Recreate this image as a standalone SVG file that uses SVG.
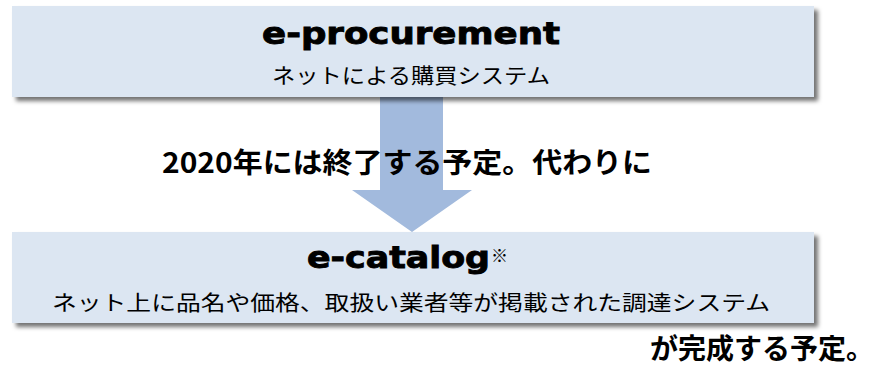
<svg xmlns="http://www.w3.org/2000/svg" width="881" height="368" viewBox="0 0 881 368">
<defs>
<filter id="sh" x="-5%" y="-20%" width="115%" height="150%">
<feDropShadow dx="4" dy="4" stdDeviation="2" flood-color="#000" flood-opacity="0.55"/>
</filter>
</defs>
<style>
.box{fill:#dce6f2;filter:url(#sh)}
.title{font-family:"DejaVu Sans","Liberation Sans",sans-serif;font-weight:bold;fill:#000;stroke:#000;stroke-width:0.9px}
.sub{font-family:"Noto Sans CJK JP",sans-serif;font-size:21px;fill:#000}
.big{font-family:"Noto Sans CJK JP",sans-serif;font-weight:bold;font-size:28px;fill:#000}
.arrow{fill:#a2badd}
</style>
<rect width="881" height="368" fill="#fff"/>
<g id="connectors">
<polygon class="arrow" points="380,97 443,97 443,190 472,190 412,232 352,190 380,190"/>
</g>
<g id="node-eprocurement">
<rect class="box" x="12" y="6" width="802" height="91"/>
<text class="title" x="262" y="44" font-size="31" textLength="298" lengthAdjust="spacingAndGlyphs">e-procurement</text>
<text class="sub" x="272" y="83" textLength="278" lengthAdjust="spacingAndGlyphs">ネットによる購買システム</text>
</g>
<g id="label-middle">
<text class="big" x="162" y="173" textLength="490" lengthAdjust="spacingAndGlyphs">2020年には終了する予定。代わりに</text>
</g>
<g id="node-ecatalog">
<rect class="box" x="12" y="232" width="802" height="91"/>
<text class="title" x="307" y="268" font-size="30" textLength="183" lengthAdjust="spacingAndGlyphs">e-catalog</text>
<text x="491" y="262" font-family="Noto Sans CJK JP,sans-serif" font-size="17" fill="#000">※</text>
<text class="sub" x="52" y="310" textLength="718" lengthAdjust="spacingAndGlyphs">ネット上に品名や価格、取扱い業者等が掲載された調達システム</text>
</g>
<g id="label-bottom">
<text class="big" x="650" y="359" font-size="27" textLength="224" lengthAdjust="spacingAndGlyphs">が完成する予定。</text>
</g>
</svg>
